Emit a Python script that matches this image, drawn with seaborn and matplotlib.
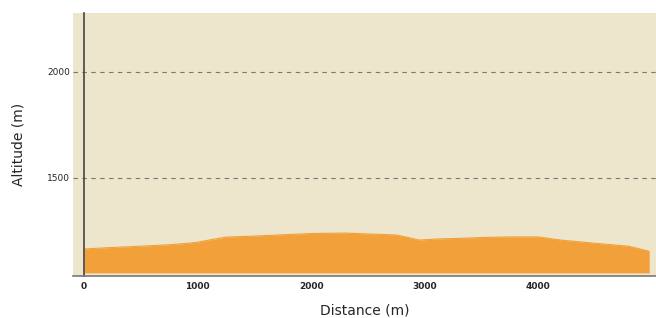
import seaborn as sns
import matplotlib.pyplot as plt
import pandas as pd

# elevation profile
distance = [0, 250, 500, 750, 900, 1000, 1100, 1250, 1500, 1750, 2000, 2300, 2600,
            2750, 2850, 2950, 3100, 3300, 3500, 3750, 4000, 4200, 4500, 4800, 4980]
altitude = [1163, 1170, 1176, 1183, 1189, 1195, 1205, 1219, 1224, 1230, 1236, 1238, 1232,
            1229, 1218, 1205, 1210, 1213, 1217, 1220, 1220, 1205, 1190, 1176, 1152]
base = 1050
yticks = [1500, 2000]
xticks = [0, 1000, 2000, 3000, 4000]

df = pd.DataFrame({"dist": distance, "alt": altitude})

sns.set_style("white")
fig, ax = plt.subplots(figsize=(6.56, 3.18), dpi=100)
fig.subplots_adjust(left=0.111, right=1.0, top=0.96, bottom=0.132)
ax.set_facecolor("#ede6cc")

sns.lineplot(data=df, x="dist", y="alt", ax=ax, color="#f2a03a", linewidth=0.8)
ax.fill_between(df["dist"], base, df["alt"], color="#f2a03a", linewidth=0)

ax.set_xlim(-100, 5040)
ax.set_ylim(1035, 2280)
ax.set_xticks(xticks)
ax.set_yticks(yticks)
ax.tick_params(axis="y", labelsize=6.5, length=0, pad=10)
ax.tick_params(axis="x", labelsize=6.5, length=0, pad=4)
for lab in ax.get_xticklabels() + ax.get_yticklabels():
    lab.set_fontweight("bold")
ax.grid(axis="y", linestyle=(0, (4, 4)), color="#777777", linewidth=0.8)
ax.grid(axis="x", visible=False)

for s in ["top", "right"]:
    ax.spines[s].set_visible(False)
ax.spines["left"].set_position(("data", 0))
ax.spines["left"].set_color("#444444")
ax.spines["left"].set_linewidth(1.2)
ax.spines["bottom"].set_color("#777777")
ax.spines["bottom"].set_linewidth(1.2)

ax.set_xlabel("Distance (m)", fontsize=10)
ax.set_ylabel("Altitude (m)", fontsize=10)
ax.xaxis.set_label_coords(0.5, -0.106)
ax.yaxis.set_label_coords(-0.081, 0.5)

plt.savefig("out.png", dpi=100)
